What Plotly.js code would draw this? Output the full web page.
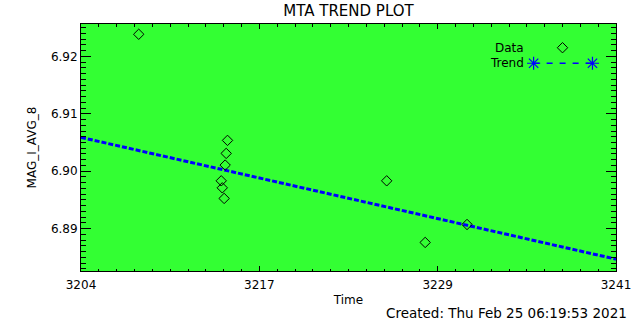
<!DOCTYPE html>
<html>
<head>
<meta charset="utf-8">
<script src="https://cdn.plot.ly/plotly-3.0.1.min.js"></script>
<style>html,body{margin:0;padding:0;background:#fff;}#chart{width:640px;height:320px;}</style>
</head>
<body>
<div id="chart"></div>
<script>
// Data
var dataTime = [3208.26, 3214.35, 3214.26, 3214.19, 3213.92, 3213.99, 3214.12, 3225.27, 3227.91, 3230.78];
var dataMag  = [6.92384, 6.90537, 6.90310, 6.90107, 6.89833, 6.89711, 6.89526, 6.89833, 6.88760, 6.89073];
var trendTime = [3204.3, 3241.0];
var trendMag  = [6.90589, 6.88469];
var xRange = [3204.3, 3241.0];
var yRange = [6.88263, 6.92563];
var yTickVals = [6.89, 6.90, 6.91, 6.92];
var createdText = "Created: Thu Feb 25 06:19:53 2021";

var FONT = "DejaVu Sans, Liberation Sans, sans-serif";
var step = (xRange[1] - xRange[0]) / 3;
var xTickVals = [xRange[0], xRange[0] + step, xRange[0] + 2 * step, xRange[1]];
var xTickText = xTickVals.map(function (v) { return String(Math.round(v)); });

var traces = [
  {
    x: trendTime, y: trendMag, mode: 'lines', type: 'scatter',
    line: {color: '#0000ff', width: 3, dash: '5px,2px'}, hoverinfo: 'skip', showlegend: false
  },
  {
    x: dataTime, y: dataMag, mode: 'markers', type: 'scatter',
    marker: {symbol: 'diamond-open', size: 8, color: '#000000', line: {width: 1, color: '#000000'}},
    showlegend: false
  },
  // legend glyphs on an overlay axis spanning the plot area
  {
    x: [0.900], y: [0.904], xaxis: 'x2', yaxis: 'y2', mode: 'markers', type: 'scatter',
    marker: {symbol: 'diamond-open', size: 8, color: '#000000', line: {width: 1, color: '#000000'}},
    showlegend: false, hoverinfo: 'skip'
  },
  {
    x: [0.846, 0.956], y: [0.841, 0.841], xaxis: 'x2', yaxis: 'y2', mode: 'lines+markers', type: 'scatter',
    line: {color: '#0000ff', width: 1.5, dash: '6px,7px'},
    marker: {symbol: 'asterisk-open', size: 11, color: '#0000ff', line: {width: 1.2, color: '#0000ff'}},
    showlegend: false, hoverinfo: 'skip'
  }
];

var layout = {
  width: 640, height: 320,
  margin: {l: 80.5, r: 23.5, t: 24, b: 49, pad: 0},
  paper_bgcolor: '#ffffff',
  plot_bgcolor: '#33ff33',
  showlegend: false,
  font: {family: FONT, size: 12, color: '#000000'},
  title: {text: 'MTA TREND PLOT', font: {family: FONT, size: 15, color: '#000000'}, x: 0.5445, xanchor: 'center', y: 0.965, yanchor: 'middle'},
  xaxis: {
    range: xRange, tickmode: 'array', tickvals: xTickVals, ticktext: xTickText,
    ticks: 'inside', ticklen: 5, tickwidth: 1, tickcolor: '#000000',
    showline: true, linecolor: '#000000', linewidth: 1, mirror: 'allticks',
    showgrid: false, zeroline: false, ticklabelstandoff: 3,
    tickfont: {family: FONT, size: 12, color: '#000000'},
    minor: {tickmode: 'linear', tick0: xRange[0], dtick: step / 10, ticks: 'inside', ticklen: 2.5, tickcolor: '#000000', showgrid: false},
    title: {text: 'Time', font: {family: FONT, size: 12, color: '#000000'}, standoff: 4}
  },
  yaxis: {
    range: yRange, tickmode: 'array', tickvals: yTickVals, ticktext: yTickVals.map(function (v) { return v.toFixed(2); }),
    ticks: 'inside', ticklen: 10, tickwidth: 1, tickcolor: '#000000',
    showline: true, linecolor: '#000000', linewidth: 1, mirror: 'allticks',
    showgrid: false, zeroline: false,
    tickfont: {family: FONT, size: 12, color: '#000000'},
    minor: {tickmode: 'linear', tick0: 6.89, dtick: 0.001, ticks: 'inside', ticklen: 5, tickcolor: '#000000', showgrid: false},
    title: {text: 'MAG_I_AVG_8', font: {family: FONT, size: 12, color: '#000000'}, standoff: 11}
  },
  xaxis2: {overlaying: 'x', range: [0, 1], visible: false, fixedrange: true},
  yaxis2: {overlaying: 'y', range: [0, 1], visible: false, fixedrange: true},
  annotations: [
    {text: 'Data', xref: 'x2', yref: 'y2', x: 0.831, y: 0.904, xanchor: 'right', yanchor: 'middle', showarrow: false, font: {family: FONT, size: 12, color: '#000000'}},
    {text: 'Trend', xref: 'x2', yref: 'y2', x: 0.831, y: 0.841, xanchor: 'right', yanchor: 'middle', showarrow: false, font: {family: FONT, size: 12, color: '#000000'}},
    {text: createdText, xref: 'paper', yref: 'paper', x: 1.024, y: -0.170, xanchor: 'right', yanchor: 'middle', showarrow: false, font: {family: FONT, size: 13.5, color: '#000000'}}
  ]
};

Plotly.newPlot('chart', traces, layout, {displayModeBar: false, staticPlot: true});
</script>
</body>
</html>
